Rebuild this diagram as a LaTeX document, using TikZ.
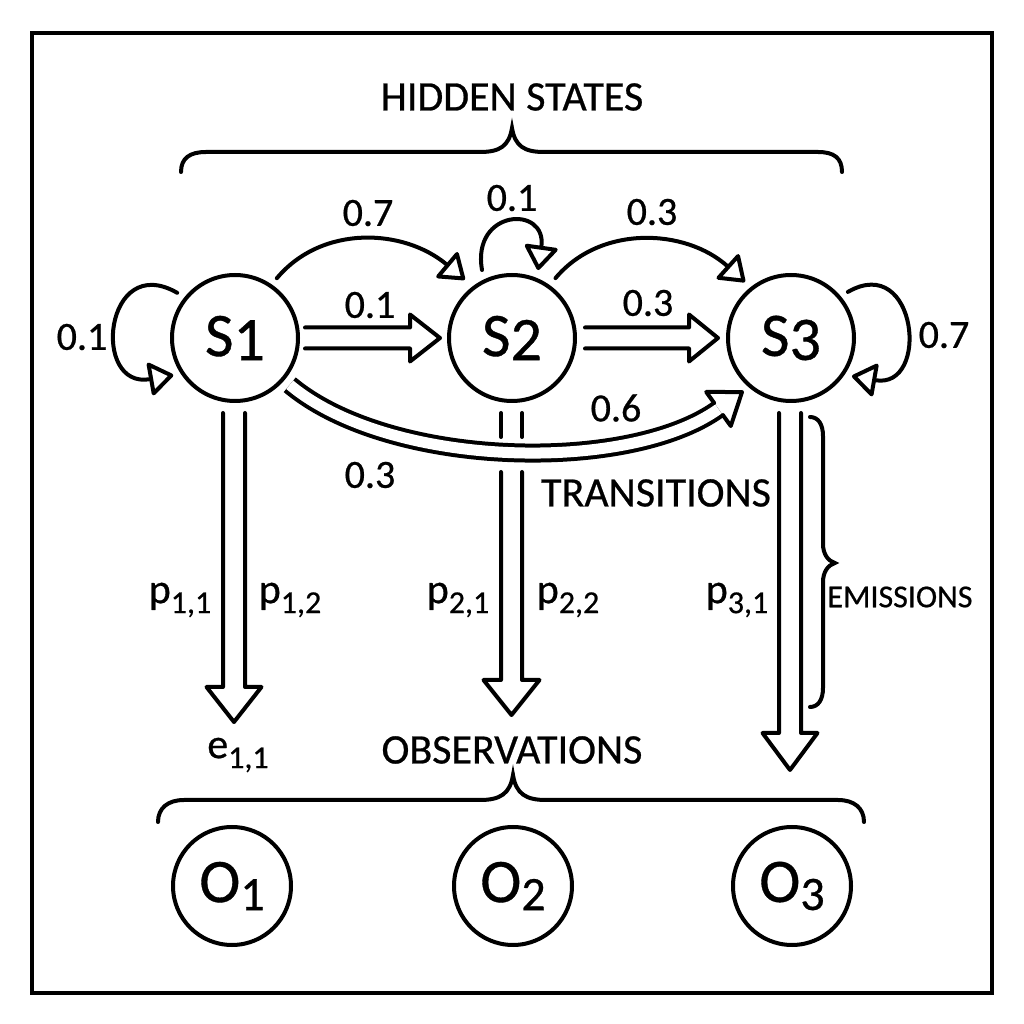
\documentclass[tikz,border=0pt]{standalone}
\usepackage{fontspec}
\setmainfont{Carlito}[FakeBold=0.6]
\usetikzlibrary{arrows.meta,calc}
\newcommand{\lowsub}[3]{\raisebox{#1}{\fontsize{#2}{#2}\selectfont #3}}
\begin{document}
\begin{tikzpicture}[x=0.5pt,y=0.5pt,
  ln/.style={line width=2pt, line cap=round, line join=round},
  st/.style={circle, draw, line width=2pt, minimum size=63pt, inner sep=0pt, font=\fontsize{31}{31}\selectfont},
  ob/.style={circle, draw, line width=2pt, minimum size=59pt, inner sep=0pt, font=\fontsize{31}{31}\selectfont},
  lbl/.style={inner sep=0pt, font=\fontsize{21}{21}\selectfont},
  num/.style={inner sep=0pt, font=\fontsize{20}{20}\selectfont},
  small/.style={inner sep=0pt, font=\fontsize{16}{16}\selectfont},
  arr/.style={ln, -{Triangle[open, length=13pt, width=18pt, round]}},
  dbl/.style={line width=2pt, double=white, double distance=5.5pt, line cap=butt},
  brace/.style={line width=2pt, line cap=round}]
\useasboundingbox (0,0) rectangle (1024,1024);
\fill[white] (0,0) rectangle (1024,1024);
\draw[line width=2pt] (32,31) rectangle (992,991);

% titles
\node[lbl] (hs) at (512,927) {HIDDEN STATES};
\node[lbl] (obs) at (512,274) {OBSERVATIONS};
\node[lbl] (tr) at (656,531) {TRANSITIONS};
\node[small] (em) at (900,427) {EMISSIONS};

% braces
\draw[brace] (181,852) .. controls (181,866) and (190,872) .. (206,872) -- (480,872)
  .. controls (500,872) and (509,878) .. (512,896) .. controls (515,878) and (524,872) .. (544,872)
  -- (818,872) .. controls (834,872) and (842,866) .. (842,852);
\draw[brace] (158,202) .. controls (158,216) and (168,224) .. (184,224) -- (480,224)
  .. controls (500,224) and (510,230) .. (513,249) .. controls (516,230) and (526,224) .. (546,224)
  -- (838,224) .. controls (854,224) and (864,216) .. (864,202);
\draw[brace] (810,607) .. controls (818,607) and (823,600) .. (823,588) -- (823,480)
  .. controls (823,470) and (828,463) .. (835,461) .. controls (828,459) and (823,452) .. (823,442)
  -- (823,336) .. controls (823,324) and (818,317) .. (810,317);

% states
\node[st] (S1) at (235,686) {S\raisebox{-2pt}{1}};
\node[st] (S2) at (512,686) {S\raisebox{-2pt}{2}};
\node[st] (S3) at (791,686) {S\raisebox{-2pt}{3}};

% observations
\node[ob] (O1) at (232,138) {O\lowsub{-4pt}{24}{1}};
\node[ob] (O2) at (513,138) {O\lowsub{-4pt}{24}{2}};
\node[ob] (O3) at (792,138) {O\lowsub{-4pt}{24}{3}};

% straight transitions
\draw[ln] ($(S1.east)+(5,10.5)$) -- ($(S2.west)+(-37,10.5)$) -- ($(S2.west)+(-37,23.5)$) -- ($(S2.west)+(-7,0)$)
  -- ($(S2.west)+(-37,-23.5)$) -- ($(S2.west)+(-37,-10.5)$) -- ($(S1.east)+(5,-10.5)$);
\draw[ln] ($(S2.east)+(8,10.5)$) -- ($(S3.west)+(-37,10.5)$) -- ($(S3.west)+(-37,23.5)$) -- ($(S3.west)+(-8,0)$)
  -- ($(S3.west)+(-37,-23.5)$) -- ($(S3.west)+(-37,-10.5)$) -- ($(S2.east)+(8,-10.5)$);

% curved transitions
\draw[arr] ($(S1.center)+(55:73)$) .. controls +(50:70) and +(140:80) .. ($(S2.center)+(129:75)$);
\draw[arr] ($(S2.center)+(54:74)$) .. controls +(50:70) and +(138:80) .. ($(S3.center)+(129.4:72.5)$);
\draw[arr] ($(S2.center)+(113.8:74.3)$) .. controls +(100:62) and +(82:66) .. ($(S2.center)+(69:72.8)$);
\draw[arr] ($(S1.center)+(142:73.4)$) .. controls +(150:84) and +(190:84) .. ($(S1.center)+(211:72)$);
\draw[arr] ($(S3.center)+(39:73.2)$) .. controls +(30:80) and +(-10:80) .. ($(S3.center)+(-32:71.9)$);

% long double transition S1 -> S3
\coordinate (a0) at ($(S1.center)+(-40.5:72)$);
\coordinate (hb) at ($(S3.center)+(-72.5,-71)$);
\draw[dbl] (a0) .. controls +(-40:130) and +(215.7:111) .. (hb);
\draw[ln, shift={(hb)}, rotate=35.8] (0,7.5) -- (0,21) -- (29,0) -- (0,-21) -- (0,-7.5);

% emissions
\coordinate (t1) at (234,302);
\coordinate (t2) at (511.5,309);
\coordinate (t3) at (790,254);
\draw[ln] ($(S1.south)+(-12,-10)$) -- ($(t1)+(-11,35)$) -- ($(t1)+(-27.5,35)$) -- (t1)
  -- ($(t1)+(27.5,35)$) -- ($(t1)+(11,35)$) -- ($(S1.south)+(10,-10)$);
\draw[ln] ($(S2.south)+(-11,-10)$) -- ++(0,-24);
\draw[ln] ($(S2.south)+(10,-10)$) -- ++(0,-24);
\draw[ln] ($(t2)+(-10.5,243)$) -- ($(t2)+(-10.5,35)$) -- ($(t2)+(-28,35)$) -- (t2)
  -- ($(t2)+(28,35)$) -- ($(t2)+(10.5,35)$) -- ($(t2)+(10.5,243)$);
\draw[ln] ($(S3.south)+(-12,-10)$) -- ($(t3)+(-11,37)$) -- ($(t3)+(-27.5,37)$) -- (t3)
  -- ($(t3)+(27.5,37)$) -- ($(t3)+(11,37)$) -- ($(S3.south)+(10,-10)$);

% labels
\node[num] (l07a) at (368,811) {0.7};
\node[num] (l01b) at (512,826) {0.1};
\node[num] (l03a) at (652,812) {0.3};
\node[num] (l01a) at (82,687) {0.1};
\node[num] (l01c) at (370,719) {0.1};
\node[num] (l03b) at (648,721) {0.3};
\node[num] (l07b) at (944,689) {0.7};
\node[num] (l06) at (616,616) {0.6};
\node[num] (l03c) at (370,549) {0.3};

\node[lbl] (p11) at (180,424) {p\lowsub{-5pt}{16}{1,1}};
\node[lbl] (p12) at (290,424) {p\lowsub{-5pt}{16}{1,2}};
\node[lbl] (p21) at (458,424) {p\lowsub{-5pt}{16}{2,1}};
\node[lbl] (p22) at (568,424) {p\lowsub{-5pt}{16}{2,2}};
\node[lbl] (p31) at (737,424) {p\lowsub{-5pt}{16}{3,1}};
\node[lbl] (e11) at (238,269) {e\lowsub{-5pt}{16}{1,1}};
\end{tikzpicture}
\end{document}
